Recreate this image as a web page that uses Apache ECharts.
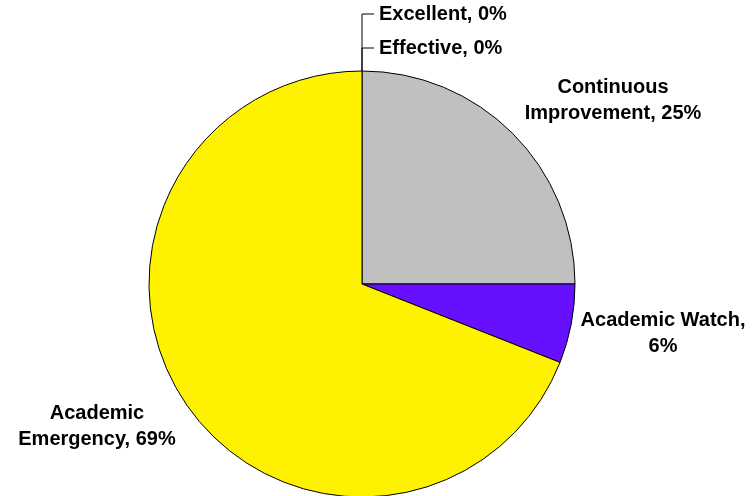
<!DOCTYPE html>
<html>
<head>
<meta charset="utf-8">
<script src="https://cdn.jsdelivr.net/npm/echarts@6/dist/echarts.min.js"></script>
<style>
  html, body { margin: 0; background: #fff; }
  #PieChart { width: 755px; height: 496px; }
</style>
</head>
<body>
<div id="PieChart"></div>
<script>
// 数据
const categories = ['Excellent', 'Effective', 'Continuous Improvement', 'Academic Watch', 'Academic Emergency'];
const values = [0, 0, 25, 6, 69];
const colors = ['#000000', '#000000', '#C0C0C0', '#6610FF', '#FFF200'];

const cx = 362, cy = 284, r = 213;

const chart = echarts.init(document.getElementById('PieChart'));
const option = {
  animation: false,
  series: [
    {
      type: 'pie',
      center: [cx, cy],
      radius: r,
      startAngle: 90,
      clockwise: true,
      percentPrecision: 0,
      data: categories.map((name, i) => ({
        name: name,
        value: values[i],
        itemStyle: { color: colors[i] },
        labelLine: { show: values[i] === 0 }
      })),
      itemStyle: { borderColor: '#000', borderWidth: 1 },
      emphasis: { disabled: true },
      label: {
        show: true,
        position: 'outside',
        overflow: 'none',
        fontFamily: 'Liberation Sans, Arial, sans-serif',
        fontWeight: 'bold',
        fontSize: 20,
        lineHeight: 26,
        color: '#000',
        align: 'center',
        formatter: function (p) {
          const s = p.name + ', ' + p.percent + '%';
          if (p.dataIndex === 3) return s.replace(', ', ',\n');
          if (p.dataIndex > 1) return s.replace(' ', '\n');
          return s;
        }
      },
      labelLine: {
        lineStyle: { color: '#000', width: 1 }
      },
      labelLayout: function (params) {
        const i = params.dataIndex;
        const top = cy - r;
        if (i === 0 || i === 1) {
          const ly = i === 0 ? 14 : 48;
          return {
            x: cx + 17, y: ly, align: 'left', verticalAlign: 'middle',
            labelLinePoints: [[cx, top], [cx, ly], [cx + 12, ly]]
          };
        }
        // 其余标签手动放置
        const pos = { 2: [613, 100], 3: [663, 333], 4: [97, 426] }[i];
        return { x: pos[0], y: pos[1], align: 'center', verticalAlign: 'middle' };
      }
    }
  ]
};
chart.setOption(option);
</script>
</body>
</html>
